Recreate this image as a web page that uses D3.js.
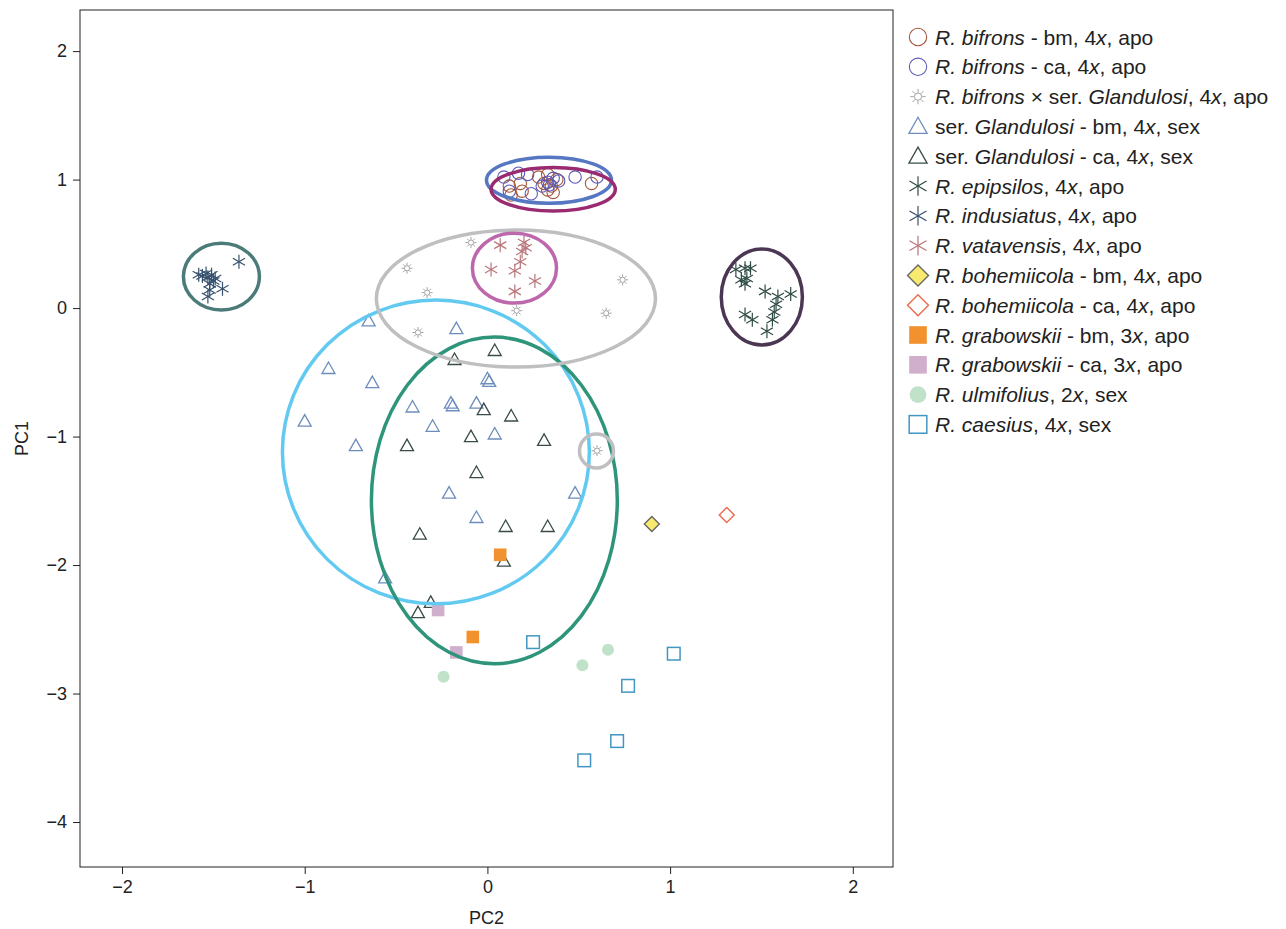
<!DOCTYPE html>
<html>
<head>
<meta charset="utf-8">
<script src="https://cdn.jsdelivr.net/npm/d3@7"></script>
<style>
  body { margin: 0; background: #fff; }
  text { font-family: "Liberation Sans", Arial, sans-serif; fill: #222; }
</style>
</head>
<body>
<svg id="chart" width="1286" height="929"></svg>
<script>
// PCA scores [PC2, PC1] per group
const bifronsBm = [[0.12,0.95],[0.18,0.97],[0.13,0.88],[0.33,0.92],[0.35,0.95],[0.31,0.97],[0.38,1.00],[0.33,1.04],[0.57,0.97],[0.28,1.02],[0.36,0.90],[0.19,0.91]];
const bifronsCa = [[0.09,1.02],[0.17,1.05],[0.22,1.04],[0.12,0.91],[0.24,0.89],[0.33,0.98],[0.36,1.01],[0.34,0.96],[0.39,0.99],[0.48,1.02],[0.60,1.02],[0.30,0.95]];
const hybrid = [[-0.09,0.51],[-0.44,0.31],[-0.33,0.12],[0.16,-0.02],[-0.38,-0.19],[0.74,0.22],[0.65,-0.04],[0.60,-1.11]];
const glandBm = [[-0.65,-0.10],[-0.17,-0.16],[-0.87,-0.47],[-0.63,-0.58],[0.00,-0.55],[0.01,-0.57],[-1.00,-0.88],[-0.41,-0.77],[-0.20,-0.74],[-0.19,-0.76],[-0.06,-0.74],[-0.30,-0.92],[0.04,-0.98],[-0.72,-1.07],[-0.21,-1.44],[-0.06,-1.63],[0.48,-1.44],[-0.56,-2.10]];
const glandCa = [[0.04,-0.33],[-0.18,-0.40],[-0.02,-0.79],[0.13,-0.84],[-0.09,-1.00],[-0.44,-1.07],[0.31,-1.03],[-0.06,-1.28],[-0.37,-1.76],[0.10,-1.70],[0.33,-1.70],[0.09,-1.97],[-0.31,-2.29],[-0.38,-2.37]];
const epipsilos = [[1.36,0.30],[1.41,0.31],[1.44,0.31],[1.39,0.22],[1.41,0.19],[1.42,0.23],[1.52,0.13],[1.59,0.09],[1.66,0.11],[1.57,-0.03],[1.58,0.03],[1.41,-0.05],[1.45,-0.09],[1.56,-0.09],[1.53,-0.18]];
const indusiatus = [[-1.58,0.26],[-1.56,0.25],[-1.53,0.24],[-1.51,0.26],[-1.49,0.23],[-1.52,0.19],[-1.52,0.14],[-1.53,0.09],[-1.45,0.15],[-1.36,0.36],[-1.54,0.27],[-1.50,0.21]];
const vatavensis = [[0.07,0.49],[0.20,0.51],[0.21,0.47],[0.19,0.44],[0.18,0.36],[0.02,0.30],[0.15,0.29],[0.26,0.21],[0.15,0.13]];
const bohemBm = [[0.90,-1.68]];
const bohemCa = [[1.31,-1.61]];
const grabBm = [[0.07,-1.92],[-0.08,-2.56]];
const grabCa = [[-0.27,-2.35],[-0.17,-2.68]];
const ulmifolius = [[-0.24,-2.87],[0.52,-2.78],[0.66,-2.66]];
const caesius = [[0.25,-2.60],[1.02,-2.69],[0.77,-2.94],[0.71,-3.37],[0.53,-3.52]];

// confidence ellipses: [cx, cy, rx, ry]
const ellBifronsCa = [0.337, 0.995, 0.342, 0.179];
const ellBifronsBm = [0.36, 0.925, 0.34, 0.17];
const ellVatavensis = [0.148, 0.311, 0.23, 0.272];
const ellHybrid = [0.156, 0.074, 0.764, 0.533];
const ellHybridSmall = [0.597, -1.112, 0.093, 0.132];
const ellIndusiatus = [-1.456, 0.245, 0.208, 0.26];
const ellEpipsilos = [1.502, 0.086, 0.222, 0.373];
const ellGlandBm = [-0.282, -1.12, 0.84, 1.182];
const ellGlandCa = [0.038, -1.497, 0.673, 1.271];

const xTicks = [-2, -1, 0, 1, 2];
const yTicks = [2, 1, 0, -1, -2, -3, -4];

// legend labels: [text, italic]
const legendLabels = [
  [["R. bifrons", 1], [" - bm, 4", 0], ["x", 1], [", apo", 0]],
  [["R. bifrons", 1], [" - ca, 4", 0], ["x", 1], [", apo", 0]],
  [["R. bifrons", 1], [" \u00d7 ser. ", 0], ["Glandulosi", 1], [", 4", 0], ["x", 1], [", apo", 0]],
  [["ser. ", 0], ["Glandulosi", 1], [" - bm, 4", 0], ["x", 1], [", sex", 0]],
  [["ser. ", 0], ["Glandulosi", 1], [" - ca, 4", 0], ["x", 1], [", sex", 0]],
  [["R. epipsilos", 1], [", 4", 0], ["x", 1], [", apo", 0]],
  [["R. indusiatus", 1], [", 4", 0], ["x", 1], [", apo", 0]],
  [["R. vatavensis", 1], [", 4", 0], ["x", 1], [", apo", 0]],
  [["R. bohemiicola", 1], [" - bm, 4", 0], ["x", 1], [", apo", 0]],
  [["R. bohemiicola", 1], [" - ca, 4", 0], ["x", 1], [", apo", 0]],
  [["R. grabowskii", 1], [" - bm, 3", 0], ["x", 1], [", apo", 0]],
  [["R. grabowskii", 1], [" - ca, 3", 0], ["x", 1], [", apo", 0]],
  [["R. ulmifolius", 1], [", 2", 0], ["x", 1], [", sex", 0]],
  [["R. caesius", 1], [", 4", 0], ["x", 1], [", sex", 0]]
];

const groups = [
  { data: bifronsBm, shape: "circle", stroke: "#a5563a", fill: "none" },
  { data: bifronsCa, shape: "circle", stroke: "#5a5ab8", fill: "none" },
  { data: hybrid, shape: "sun", stroke: "#a3a3a3", fill: "none" },
  { data: glandBm, shape: "triangle", stroke: "#6d8dbd", fill: "none" },
  { data: glandCa, shape: "triangle", stroke: "#3a4c48", fill: "none" },
  { data: epipsilos, shape: "star", stroke: "#2e4a44", fill: "none" },
  { data: indusiatus, shape: "star", stroke: "#36506e", fill: "none" },
  { data: vatavensis, shape: "star", stroke: "#b8757a", fill: "none" },
  { data: bohemBm, shape: "diamond", stroke: "#666", fill: "#f7ea6e" },
  { data: bohemCa, shape: "diamond", stroke: "#ea6a4c", fill: "none" },
  { data: grabBm, shape: "square", stroke: "none", fill: "#f1922f" },
  { data: grabCa, shape: "square", stroke: "none", fill: "#d0afcc" },
  { data: ulmifolius, shape: "dot", stroke: "none", fill: "#c0e2c9" },
  { data: caesius, shape: "square", stroke: "#4197c1", fill: "none" }
];

const ellipses = [
  { e: ellGlandBm, color: "#62caf1" },
  { e: ellGlandCa, color: "#2f957a" },
  { e: ellHybrid, color: "#bfbfc2" },
  { e: ellHybridSmall, color: "#bfbfc2" },
  { e: ellVatavensis, color: "#bd68ac" },
  { e: ellIndusiatus, color: "#4b7b79" },
  { e: ellEpipsilos, color: "#4b3653" },
  { e: ellBifronsCa, color: "#5677c2" },
  { e: ellBifronsBm, color: "#9a2b70" }
];

const svg = d3.select("#chart");
const plotL = 80, plotR = 893, plotT = 10, plotB = 867;

const x = d3.scaleLinear().domain([-2.23, 2.22]).range([plotL, plotR]);
const y = d3.scaleLinear().domain([2.32, -4.35]).range([plotT, plotB]);

// draws one marker centred on the given group, k = size factor
function drawMark(g, grp, k) {
  const s = grp.stroke, f = grp.fill;
  if (grp.shape === "circle") {
    g.append("circle").attr("r", 6.2 * k).attr("fill", "none").attr("stroke", s).attr("stroke-width", 1.1);
  } else if (grp.shape === "dot") {
    g.append("circle").attr("r", 6 * k).attr("fill", f);
  } else if (grp.shape === "triangle") {
    g.append("path").attr("d", `M0,${-6.5 * k}L${6.5 * k},${5 * k}L${-6.5 * k},${5 * k}Z`)
      .attr("fill", "none").attr("stroke", s).attr("stroke-width", 1.3);
  } else if (grp.shape === "diamond") {
    const r = 7.5 * k;
    g.append("path").attr("d", `M0,${-r}L${r},0L0,${r}L${-r},0Z`).attr("fill", f).attr("stroke", s).attr("stroke-width", 1.4);
  } else if (grp.shape === "square") {
    const h = 6.3 * k;
    if (f !== "none") g.append("rect").attr("x", -h).attr("y", -h).attr("width", 2 * h).attr("height", 2 * h).attr("fill", f);
    else g.append("rect").attr("x", -h).attr("y", -h).attr("width", 2 * h).attr("height", 2 * h)
      .attr("fill", "none").attr("stroke", s).attr("stroke-width", 1.5);
  } else if (grp.shape === "star") {
    [90, 30, 150].forEach(a => {
      const r = 7 * k, dx = r * Math.cos(a * Math.PI / 180), dy = r * Math.sin(a * Math.PI / 180);
      g.append("line").attr("x1", -dx).attr("y1", -dy).attr("x2", dx).attr("y2", dy)
        .attr("stroke", s).attr("stroke-width", 1.2);
    });
  } else if (grp.shape === "sun") {
    g.append("circle").attr("r", 2.6 * k).attr("fill", "none").attr("stroke", s).attr("stroke-width", 1);
    d3.range(8).forEach(i => {
      const a = i * Math.PI / 4;
      g.append("line").attr("x1", 3 * k * Math.cos(a)).attr("y1", 3 * k * Math.sin(a))
        .attr("x2", 5.5 * k * Math.cos(a)).attr("y2", 5.5 * k * Math.sin(a))
        .attr("stroke", s).attr("stroke-width", 1);
    });
  }
}

// points
groups.forEach(grp => {
  grp.data.forEach(d => {
    const g = svg.append("g").attr("transform", `translate(${x(d[0])},${y(d[1])})`);
    drawMark(g, grp, 1);
  });
});

// ellipses on top
ellipses.forEach(el => {
  const [cx, cy, rx, ry] = el.e;
  svg.append("ellipse")
    .attr("cx", x(cx)).attr("cy", y(cy))
    .attr("rx", x(cx + rx) - x(cx)).attr("ry", y(cy - ry) - y(cy))
    .attr("fill", "none").attr("stroke", el.color).attr("stroke-width", 3.5);
});

// frame
svg.append("rect").attr("x", plotL).attr("y", plotT).attr("width", plotR - plotL).attr("height", plotB - plotT)
  .attr("fill", "none").attr("stroke", "#222").attr("stroke-width", 1);

// axes
const xAxis = svg.append("g").attr("transform", `translate(0,${plotB})`)
  .call(d3.axisBottom(x).tickValues(xTicks).tickFormat(d3.format("d")).tickSize(7).tickPadding(6));
const yAxis = svg.append("g").attr("transform", `translate(${plotL},0)`)
  .call(d3.axisLeft(y).tickValues(yTicks).tickFormat(d3.format("d")).tickSize(7).tickPadding(6));
[xAxis, yAxis].forEach(a => {
  a.select(".domain").remove();
  a.selectAll("line").attr("stroke", "#222");
  a.selectAll("text").attr("font-size", 18).style("fill", "#222")
    .attr("font-family", "'Liberation Sans', Arial, sans-serif");
});

svg.append("text").attr("x", (plotL + plotR) / 2).attr("y", 924).attr("text-anchor", "middle")
  .attr("font-size", 18).text("PC2");
svg.append("text").attr("transform", `translate(28,${(plotT + plotB) / 2}) rotate(-90)`)
  .attr("text-anchor", "middle").attr("font-size", 18).text("PC1");

// legend
const legend = svg.append("g").attr("transform", "translate(918,37)");
groups.forEach((grp, i) => {
  const row = legend.append("g").attr("transform", `translate(0,${i * 29.8})`);
  drawMark(row, grp, 1.4);
  const t = row.append("text").attr("x", 17).attr("y", 7.5).attr("font-size", 21);
  legendLabels[i].forEach(([txt, it]) => {
    t.append("tspan").attr("font-style", it ? "italic" : "normal").text(txt);
  });
});
</script>
</body>
</html>
